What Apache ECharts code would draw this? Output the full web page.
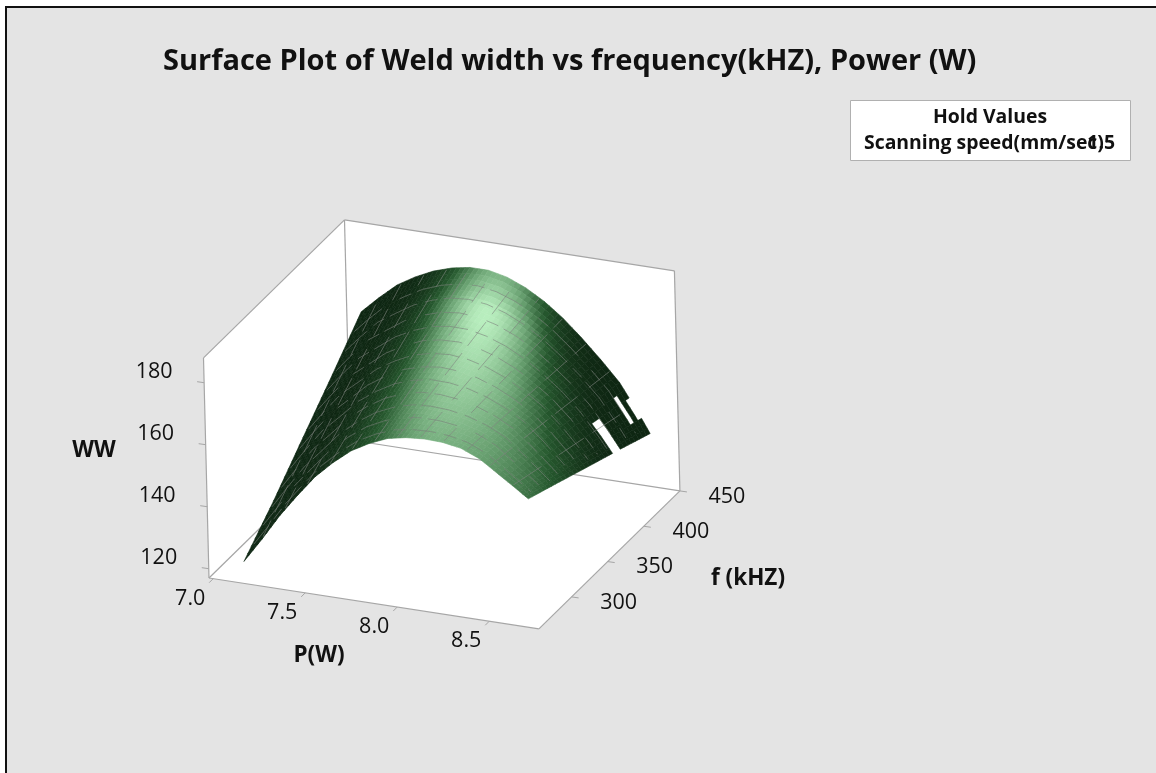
<!DOCTYPE html>
<html><head><meta charset="utf-8">
<style>html,body{margin:0;padding:0;background:#fff}#c{width:1156px;height:773px}</style>
<script src="https://cdn.jsdelivr.net/npm/echarts@6/dist/echarts.min.js"></script>
</head><body><div id="c"></div>
<script>
const titleText = 'Surface Plot of Weld width vs frequency(kHZ), Power (W)';
const powerGrid = [7.1,7.2,7.3,7.4,7.5,7.6,7.7,7.8,7.9,8.0,8.1,8.2,8.3,8.4,8.5,8.6,8.66];
const freqGrid = [272,314,356,398,439];
const ww272 = [119.5,127.5,136,143.5,150.5,156,160.7,164,166.5,167.7,168.2,168,167,164.5,160.5,156.5,154];
const ww314 = [129.4,137.6,145.4,151.4,157.7,162.3,166,168.5,170,170.3,169.8,168.5,166.4,163.4,158.4,153.1,149.8];
const ww356 = [140.3,147.8,154.8,159.8,164.9,168.5,171.4,172.9,173.5,172.9,171.4,169,165.8,161.8,156.3,149.8,145.5];
const ww398 = [151.1,157.9,164.1,168.1,172.1,174.8,176.7,177.4,177,175.4,172.9,169.5,165.1,160.1,154.1,146.4,141.3];
const ww439 = [162,167.5,172.5,176,178.8,180.7,181.8,181.8,180.5,178,174.5,170,164.5,158.5,152,143,137];
const wwRows = [ww272,ww314,ww356,ww398,ww439];
const pTicks = [7.0,7.5,8.0,8.5];
const fTicks = [300,350,400,450];
const wwTicks = [120,140,160,180];
const holdName = 'Scanning speed(mm/sec)';
const holdValue = '1.5';
const surfaceGaps = [[8.56,8.67,386,398],[8.53,8.61,422,428],[8.54,8.62,433.5,440]];

const pLo=6.977, pHi=8.77, fLo=254.7, fHi=450, zLo=117, zHi=188;
function project(P,f,z){
  return [209+(P-pLo)*184+(f-fLo)*0.722-(z-zLo)*0.0775,
          578+(P-pLo)*28.4-(f-fLo)*0.7066-(z-zLo)*3.1];
}
function zAt(P,f){
  let i=0; while(i<powerGrid.length-2&&P>powerGrid[i+1]) i++;
  let j=0; while(j<freqGrid.length-2&&f>freqGrid[j+1]) j++;
  const u=(P-powerGrid[i])/(powerGrid[i+1]-powerGrid[i]), v=(f-freqGrid[j])/(freqGrid[j+1]-freqGrid[j]);
  return (1-v)*((1-u)*wwRows[j][i]+u*wwRows[j][i+1])+v*((1-u)*wwRows[j+1][i]+u*wwRows[j+1][i+1]);
}
const ramp=[[0,[14,38,18]],[0.3,[38,88,46]],[0.6,[104,160,112]],[1,[184,238,190]]];
function shade(P,f){
  const v=(f-272)/167, pc=8.16-0.30*v, t=P-pc;
  const sr=0.26+0.42*Math.pow(1-v,1.5), sl=0.25+0.13*(1-v);
  const s=t<0?sl:sr;
  let b=Math.exp(-(t*t)/(s*s));
  b*=(0.68+0.32*Math.min(1,v*1.35));
  if(v>0.82) b*=1-(v-0.82)*1.7;
  for(let k=1;k<ramp.length;k++){
    if(b<=ramp[k][0]){
      const a=ramp[k-1],c=ramp[k],q=(b-a[0])/(c[0]-a[0]);
      return 'rgb('+a[1].map((x,n)=>Math.round(x+(c[1][n]-x)*q)).join(',')+')';
    }
  }
  return 'rgb(184,238,190)';
}
const cells=[];
for(let j=freqGrid.length-2;j>=0;j--) for(let i=0;i<powerGrid.length-1;i++) cells.push([i,j]);
const SUBP=4, SUBF=8;
function renderCell(params,api){
  const i=api.value(0), j=api.value(1), kids=[];
  const p0=powerGrid[i],p1=powerGrid[i+1],f0=freqGrid[j],f1=freqGrid[j+1];
  const pt=(P,f)=>api.coord(project(P,f,zAt(P,f)));
  for(let b=SUBF-1;b>=0;b--) for(let a=0;a<SUBP;a++){
    const Pa=p0+(p1-p0)*a/SUBP,Pb=p0+(p1-p0)*(a+1)/SUBP,Fa=f0+(f1-f0)*b/SUBF,Fb=f0+(f1-f0)*(b+1)/SUBF;
    const pm=(Pa+Pb)/2,fm=(Fa+Fb)/2;
    if(surfaceGaps.some(g=>pm>g[0]&&pm<g[1]&&fm>g[2]&&fm<g[3])) continue;
    const col=shade(pm,fm);
    kids.push({type:'polygon',shape:{points:[pt(Pa,Fa),pt(Pb,Fa),pt(Pb,Fb),pt(Pa,Fb)]},
      style:{fill:col,stroke:col,lineWidth:0.6}});
  }
  return {type:'group',children:kids};
}
const fMesh=[],pMesh=[];
for(let f=281;f<=432;f+=13) fMesh.push(f);
for(let P=7.2;P<=8.62;P+=0.125) pMesh.push(P);
function renderMesh(params,api){
  const kids=[];
  const st=(c,d)=>({stroke:c,fill:'none',lineWidth:0.8,lineDash:d});
  fMesh.forEach((f,n)=>{
    const pts=[];for(let P=7.12;P<=8.64;P+=0.02) pts.push(api.coord(project(P,f,zAt(P,f))));
    kids.push({type:'polyline',shape:{points:pts},style:st('rgba(122,128,122,0.75)',[24+n%3*6,8+n%2*12,13,6])});
  });
  pMesh.forEach((P,n)=>{
    const pts=[];for(let f=274;f<=438;f+=4) pts.push(api.coord(project(P,f,zAt(P,f))));
    kids.push({type:'polyline',shape:{points:pts},style:st('rgba(122,128,122,0.75)',[18+n%4*5,9+n%3*6,30,10])});
  });
  return {type:'group',children:kids};
}
function line(api,a,b,w){
  return {type:'line',shape:{x1:a[0],y1:a[1],x2:b[0],y2:b[1]},style:{stroke:'#a6a6a6',lineWidth:w||1.2}};
}
function renderBox(params,api){
  const c=(P,f,z)=>api.coord(project(P,f,z));
  const A=c(pLo,fLo,zLo),B=c(pHi,fLo,zLo),C=c(pHi,fHi,zLo),D=c(pLo,fHi,zLo),
        At=c(pLo,fLo,zHi),Ct=c(pHi,fHi,zHi),Dt=c(pLo,fHi,zHi);
  const white={fill:'#fff',stroke:'none'};
  const kids=[
    {type:'polygon',shape:{points:[A,B,C,D]},style:white},
    {type:'polygon',shape:{points:[A,D,Dt,At]},style:white},
    {type:'polygon',shape:{points:[D,C,Ct,Dt]},style:white},
    line(api,A,B),line(api,B,C),line(api,C,D),line(api,D,A),line(api,A,At),line(api,At,Dt),line(api,Dt,Ct),line(api,Ct,C),line(api,Dt,D)
  ];
  pTicks.forEach(t=>{const p=c(t,fLo,zLo);kids.push(line(api,p,[p[0]-4,p[1]+4],1));});
  fTicks.forEach(t=>{const p=c(pHi,t,zLo);kids.push(line(api,p,[p[0]+7,p[1]+1],1));});
  wwTicks.forEach(t=>{const p=c(pLo,fLo,t);kids.push(line(api,p,[p[0]-7,p[1]-1],1));});
  return {type:'group',children:kids};
}
const tickFont='21.5px "Open Sans"', nameFont='700 22.5px "Open Sans"';
function txt(text,x,y,font){return {type:'text',style:{text:String(text),x:x,y:y,align:'center',verticalAlign:'middle',font:font,fill:'#111'}};}
function renderLabels(params,api){
  const c=(P,f,z)=>api.coord(project(P,f,z));
  const kids=[];
  pTicks.forEach(t=>{const p=c(t,fLo,zLo);kids.push(txt(t.toFixed(1),p[0]-23,p[1]+20,tickFont));});
  fTicks.forEach(t=>{const p=c(pHi,t,zLo);kids.push(txt(t,p[0]+47,p[1]+5.5,tickFont));});
  wwTicks.forEach(t=>{const p=c(pLo,fLo,t);kids.push(txt(t,p[0]-50,p[1]-10.5,tickFont));});
  kids.push(txt('WW',94,451,nameFont),txt('P(W)',319,656,nameFont),txt('f (kHZ)',748,579,nameFont));
  return {type:'group',children:kids};
}
const chart=echarts.init(document.getElementById('c'),null,{width:1156,height:773});
const custom=(r,data,z)=>({type:'custom',coordinateSystem:'cartesian2d',renderItem:r,data:data,clip:false,silent:true,z:z,animation:false,progressive:0});
const holdFont='700 19.4px "Open Sans"';
chart.setOption({
  animation:false,backgroundColor:'#fff',
  title:{text:titleText,left:158,top:42,
    textStyle:{fontFamily:'"Open Sans"',fontWeight:700,fontSize:29,color:'#111'}},
  grid:{left:0,right:0,top:0,bottom:0},
  xAxis:{type:'value',min:0,max:1156,show:false},
  yAxis:{type:'value',min:0,max:773,inverse:true,show:false},
  graphic:[
    {type:'rect',shape:{x:6,y:7,width:1160,height:780},style:{fill:'#e4e4e4',stroke:'#111',lineWidth:2},z:0},
    {type:'rect',shape:{x:850.5,y:100.5,width:280,height:60},style:{fill:'#fff',stroke:'#b0b0b0',lineWidth:1},z:1},
    {type:'text',style:{text:'Hold Values',x:990,y:117,align:'center',verticalAlign:'middle',font:holdFont,fill:'#111'},z:2},
    {type:'text',style:{text:holdName,x:864,y:143,align:'left',verticalAlign:'middle',font:holdFont,fill:'#111'},z:2},
    {type:'text',style:{text:holdValue,x:1115,y:143,align:'right',verticalAlign:'middle',font:holdFont,fill:'#111'},z:2}
  ],
  series:[
    custom(renderBox,[[0]],2),
    custom(renderCell,cells,3),
    custom(renderMesh,[[0]],4),
    custom(renderLabels,[[0]],5)
  ]
});
</script></body></html>
